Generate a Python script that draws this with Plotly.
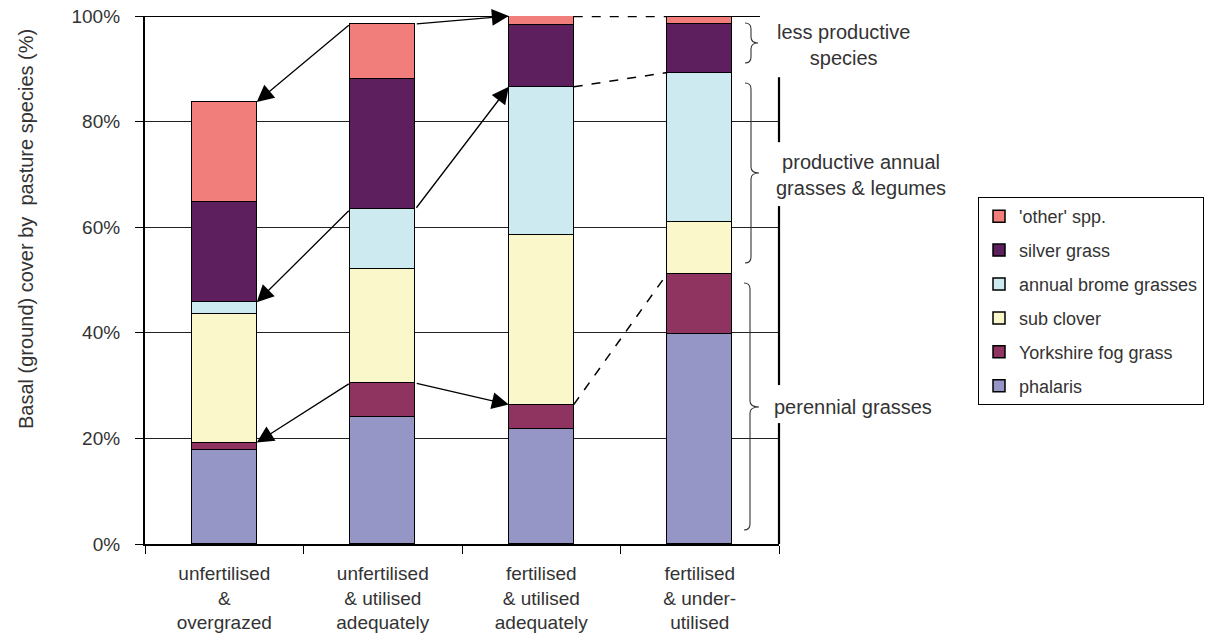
import plotly.graph_objects as go

# ---------------- data ----------------
categories = [
    "unfertilised<br>&<br>overgrazed",
    "unfertilised<br>& utilised<br>adequately",
    "fertilised<br>& utilised<br>adequately",
    "fertilised<br>& under-<br>utilised",
]
series_names = ["phalaris", "Yorkshire fog grass", "sub clover",
                "annual brome grasses", "silver grass", "'other' spp."]
phalaris = [17.8, 24.1, 21.8, 39.7]
yorkshire_fog = [1.4, 6.4, 4.6, 11.5]
sub_clover = [24.4, 21.5, 32.1, 9.7]
annual_brome = [2.2, 11.4, 28.1, 28.4]
silver_grass = [19.0, 24.6, 11.7, 9.2]
other_spp = [18.9, 10.5, 1.7, 1.5]
y_ticks = [0, 20, 40, 60, 80, 100]
y_tick_labels = [f"{v}%" for v in y_ticks]

series_values = [phalaris, yorkshire_fog, sub_clover, annual_brome, silver_grass, other_spp]
colors = ["#9595C6", "#8F3360", "#FAF7CB", "#CDEAF0", "#5E1F5E", "#F27E7C"]

TXT = "#333333"
FONT = "Liberation Sans, Arial, sans-serif"
BAR_W = 0.41
HALF = BAR_W / 2

fig = go.Figure()
n = len(series_names)
for i, (name, vals, col) in enumerate(zip(series_names, series_values, colors)):
    fig.add_trace(go.Bar(
        x=categories, y=vals, name=name, width=BAR_W,
        marker=dict(color=col, line=dict(color="black", width=1.5)),
        legendgroup=name, legendrank=n - i,
    ))

# cumulative tops of each series
cum = []
run = [0.0] * len(categories)
for vals in series_values:
    run = [r + v for r, v in zip(run, vals)]
    cum.append(run[:])

# arrows from bar 2 to bars 1 and 3 at given series-top levels
arrow_levels = [5, 3, 1]  # top of 'other', top of brome, top of Yorkshire fog
annotations = []
for k in arrow_levels:
    lvl = cum[k]
    annotations.append(dict(x=0 + HALF, y=lvl[0], ax=1 - HALF, ay=lvl[1],
                            xref="x", yref="y", axref="x", ayref="y",
                            showarrow=True, arrowhead=2, arrowsize=2.6,
                            arrowwidth=1.3, arrowcolor="black", standoff=0, text=""))
    annotations.append(dict(x=2 - HALF, y=lvl[2], ax=1 + HALF, ay=lvl[1],
                            xref="x", yref="y", axref="x", ayref="y",
                            showarrow=True, arrowhead=2, arrowsize=2.6,
                            arrowwidth=1.3, arrowcolor="black", standoff=0, text=""))

shapes = []
# dashed links between bar 3 and bar 4
for k, w in [(5, 2.4), (3, 1.5), (1, 1.5)]:
    shapes.append(dict(type="line", xref="x", yref="y",
                       x0=2 + HALF, y0=cum[k][2], x1=3 - HALF, y1=cum[k][3],
                       line=dict(color="black", width=w, dash="dash"), layer="above"))

# top border (solid pieces)
shapes.append(dict(type="line", xref="x", yref="y", x0=-0.5, x1=2 - HALF, y0=100, y1=100,
                   line=dict(color="black", width=2.2), layer="above"))
shapes.append(dict(type="line", xref="x", yref="y", x0=3 - HALF, x1=3.38, y0=100, y1=100,
                   line=dict(color="black", width=2.2), layer="above"))
# right border pieces (interrupted by labels)
for y0, y1 in [(0, 22.9), (30.1, 64.0), (76.1, 88.4)]:
    shapes.append(dict(type="line", xref="paper", yref="y", x0=1, x1=1, y0=y0, y1=y1,
                       line=dict(color="black", width=2.2), layer="above"))

# braces (pixel geometry converted to paper coords)
L, T, W, H = 145, 16, 634, 528
def px(x):
    return (x - L) / W
def py(y):
    return (T + H - y) / H

def brace(x0, xs, xt, ytop, ybot, ytip):
    r = 6
    p = (f"M{px(x0)},{py(ytop)} Q{px(xs)},{py(ytop)} {px(xs)},{py(ytop + r)} "
         f"L{px(xs)},{py(ytip - r)} Q{px(xs)},{py(ytip)} {px(xt)},{py(ytip)} "
         f"Q{px(xs)},{py(ytip)} {px(xs)},{py(ytip + r)} "
         f"L{px(xs)},{py(ybot - r)} Q{px(xs)},{py(ybot)} {px(x0)},{py(ybot)}")
    return dict(type="path", xref="paper", yref="paper", path=p,
                line=dict(color="#333333", width=1.1), layer="above")

shapes.append(brace(745, 751, 758, 23, 63, 43))
shapes.append(brace(745, 751, 759, 83, 263, 173))
shapes.append(brace(744, 750, 759, 283, 530, 407))

side_labels = [
    ("less productive<br>species", 843, 45),
    ("productive annual<br>grasses &amp; legumes", 861, 175),
    ("perennial grasses", 853, 407),
]
for txt, x, y in side_labels:
    annotations.append(dict(text=txt, x=px(x), y=py(y), xref="paper", yref="paper",
                            showarrow=False, xanchor="center", yanchor="middle",
                            align="center", font=dict(size=20, color=TXT, family=FONT)))

annotations.append(dict(text="Basal (ground) cover by\u00a0 pasture species (%)",
                        x=px(26), y=py(229), xref="paper", yref="paper",
                        showarrow=False, textangle=-90, xanchor="center", yanchor="middle",
                        font=dict(size=20, color=TXT, family=FONT)))

fig.update_layout(
    width=1205, height=634, autosize=False,
    margin=dict(l=L, r=1205 - L - W, t=T, b=634 - T - H, autoexpand=False),
    barmode="stack", bargap=0,
    plot_bgcolor="white", paper_bgcolor="white",
    font=dict(family=FONT, size=19, color=TXT),
    showlegend=True,
    legend=dict(x=px(978), y=py(197), xanchor="left", yanchor="top",
                bordercolor="black", borderwidth=1, bgcolor="white",
                traceorder="grouped", tracegroupgap=7.5,
                font=dict(size=18, color=TXT, family=FONT)),
    xaxis=dict(type="category", tickson="boundaries", ticks="outside", ticklen=8,
               tickcolor="black", tickwidth=1.2, showline=True, linecolor="black",
               linewidth=2.2, showgrid=False, range=[-0.5, 3.5], automargin=False,
               tickfont=dict(size=19, color=TXT), ticklabelstandoff=11),
    yaxis=dict(range=[0, 100], tickvals=y_ticks, ticktext=y_tick_labels, ticks="outside",
               ticklen=8, tickcolor="black", tickwidth=1.2, showline=True,
               linecolor="black", linewidth=2.2, showgrid=True, gridcolor="#222222",
               gridwidth=1, zeroline=False, tickfont=dict(size=19, color=TXT),
               ticklabelstandoff=11, automargin=False),
    shapes=shapes, annotations=annotations,
)

fig.write_html("out.html", config={"displayModeBar": False},
               post_script="document.body.style.margin='0';document.body.style.overflow='hidden';")
